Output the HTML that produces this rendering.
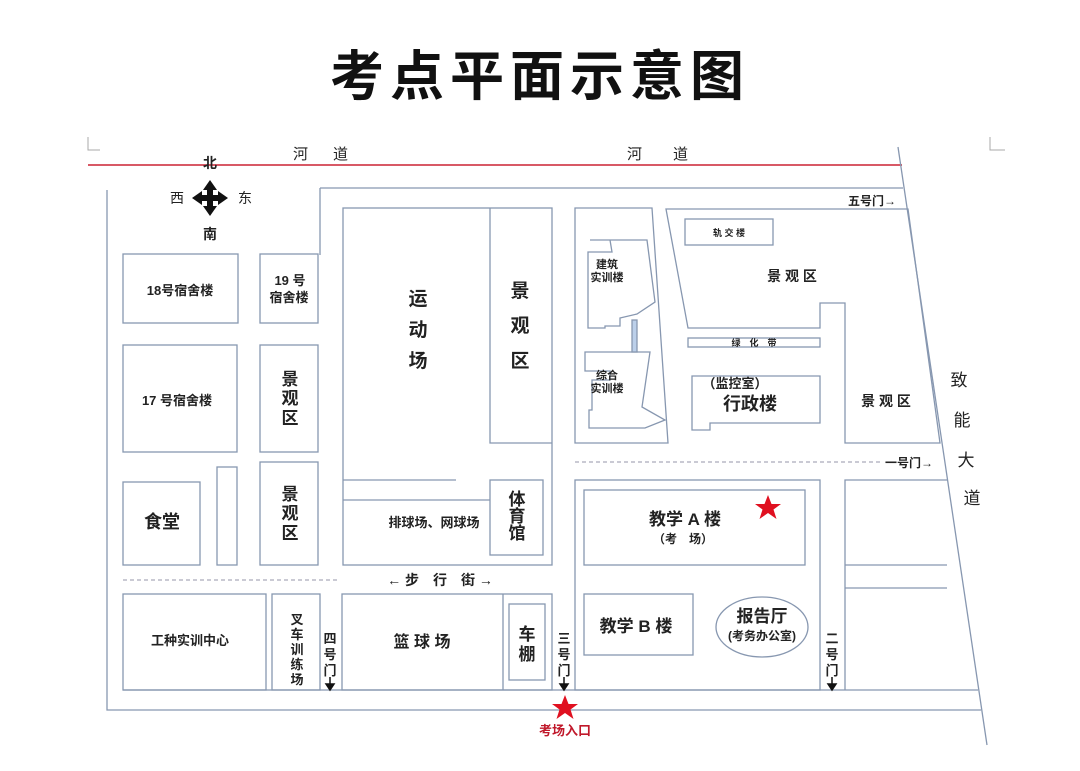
<!DOCTYPE html>
<html><head><meta charset="utf-8"><style>
html,body{margin:0;padding:0;background:#fff}
svg{display:block}
text{font-family:"Liberation Sans","Noto Sans CJK SC",sans-serif;fill:#222}
.b{font-weight:bold}
</style></head><body>
<svg width="1080" height="771" viewBox="0 0 1080 771" xmlns="http://www.w3.org/2000/svg">
<rect width="1080" height="771" fill="#fff"/>
<text x="540" y="95" text-anchor="middle" font-size="54" class="b" letter-spacing="6" style="fill:#111">考点平面示意图</text>
<g stroke="#aaa" fill="none" stroke-width="1">
<path d="M88 137V150H100M990 137V150H1005"/>
</g>
<line x1="88" y1="165" x2="902" y2="165" stroke="#c23" stroke-width="1.5"/>
<text x="293" y="159" font-size="15">河</text><text x="333" y="159" font-size="15">道</text>
<text x="627" y="159" font-size="15">河</text><text x="673" y="159" font-size="15">道</text>
<g stroke="#8797b0" stroke-width="1.3" fill="none">
<line x1="898" y1="147" x2="987" y2="745"/>
<path d="M107 190V710H981"/>
<path d="M320 188H903"/>
<path d="M320 188V255"/>
<line x1="123" y1="690" x2="978" y2="690"/>
<rect x="123" y="254" width="115" height="69"/>
<rect x="260" y="254" width="58" height="69"/>
<rect x="123" y="345" width="114" height="107"/>
<rect x="260" y="345" width="58" height="107"/>
<rect x="123" y="482" width="77" height="83"/>
<rect x="217" y="467" width="20" height="98"/>
<rect x="260" y="462" width="58" height="103"/>
<rect x="343" y="208" width="209" height="357"/>
<path d="M490 208V443H552"/>
<path d="M343 480H456M343 500H490"/>
<rect x="490" y="480" width="53" height="75"/>
<rect x="123" y="594" width="143" height="96"/>
<rect x="272" y="594" width="48" height="96"/>
<rect x="342" y="594" width="210" height="96"/>
<line x1="503" y1="594" x2="503" y2="690"/>
<rect x="509" y="604" width="36" height="76"/>
<path d="M575 208H652L668 443H575Z"/>
<path d="M590 240H647L655 302L637 314L620 318V326H605V328H588V252H612L610 240Z"/>
<path d="M585 352H650L642 407L665 420L645 428H589V410H592V380H610V371H585Z"/>
<rect x="632" y="320" width="5" height="32" fill="#bcd0ea"/>
<path d="M666 209H908L940 443H845V303H820V328H688Z"/>
<rect x="685" y="219" width="88" height="26"/>
<rect x="688" y="338" width="132" height="9"/>
<path d="M692 376H820V423H710V430H692Z"/>
<rect x="575" y="480" width="245" height="210"/>
<rect x="584" y="490" width="221" height="75"/>
<rect x="584" y="594" width="109" height="61"/>
<ellipse cx="762" cy="627" rx="46" ry="30"/>
<path d="M845 690V480H948M845 565H947M845 588H947"/>
</g>
<g stroke="#aab" stroke-width="1.2" stroke-dasharray="4 3">
<line x1="123" y1="580" x2="340" y2="580"/>
<line x1="575" y1="462" x2="882" y2="462"/>
</g>
<g fill="#111">
<rect x="207" y="185" width="6" height="26"/><rect x="197" y="195" width="26" height="6"/>
<path d="M210 180L203 190H217Z M210 216L203 206H217Z M192 198L202 191V205Z M228 198L218 191V205Z"/>
</g>
<text x="210" y="168" font-size="14" text-anchor="middle" class="b">北</text>
<text x="177" y="203" font-size="14" text-anchor="middle">西</text>
<text x="245" y="203" font-size="14" text-anchor="middle">东</text>
<text x="210" y="239" font-size="14" text-anchor="middle" class="b">南</text>
<g font-size="13" class="b">
<text x="180" y="295" text-anchor="middle">18号宿舍楼</text>
<text x="290" y="285" text-anchor="middle">19 号</text>
<text x="289" y="302" text-anchor="middle">宿舍楼</text>
<text x="177" y="405" text-anchor="middle">17 号宿舍楼</text>
<text x="434" y="527" text-anchor="middle">排球场、网球场</text>
<text x="190" y="645" text-anchor="middle">工种实训中心</text>
</g>
<g font-size="17" class="b" text-anchor="middle">
<text x="290" y="385">景</text><text x="290" y="404">观</text><text x="290" y="424">区</text>
<text x="290" y="500">景</text><text x="290" y="519">观</text><text x="290" y="539">区</text>
<text x="162" y="528" font-size="18">食堂</text>
<text x="517" y="505">体</text><text x="517" y="522">育</text><text x="517" y="539">馆</text>
<text x="527" y="640">车</text><text x="527" y="660">棚</text>
<text x="297" y="624" font-size="13">叉</text><text x="297" y="639" font-size="13">车</text><text x="297" y="654" font-size="13">训</text><text x="297" y="669" font-size="13">练</text><text x="297" y="684" font-size="13">场</text>
<text x="422" y="647" font-size="16">篮 球 场</text>
<text x="636" y="632" font-size="17">教学 B 楼</text>
<text x="685" y="525" font-size="17">教学 A 楼</text>
<text x="683" y="543" font-size="12">（考　场）</text>
<text x="762" y="622" font-size="17">报告厅</text>
<text x="762" y="640" font-size="12">(考务办公室)</text>
<text x="750" y="410" font-size="18">行政楼</text>
<text x="735" y="388" font-size="13">（监控室）</text>
<text x="792" y="281" font-size="14">景 观 区</text>
<text x="886" y="406" font-size="14">景 观 区</text>
<text x="729" y="236" font-size="9">轨 交 楼</text>
<text x="754" y="346" font-size="9">绿　化　带</text>
<text x="607" y="268" font-size="11">建筑</text><text x="607" y="281" font-size="11">实训楼</text>
<text x="607" y="379" font-size="11">综合</text><text x="607" y="392" font-size="11">实训楼</text>
</g>
<g font-size="19" class="b" text-anchor="middle">
<text x="418" y="305">运</text><text x="418" y="336">动</text><text x="418" y="367">场</text>
<text x="520" y="297">景</text><text x="520" y="332">观</text><text x="520" y="367">区</text>
</g>
<g font-size="17" text-anchor="middle">
<text x="959" y="386">致</text><text x="962" y="426">能</text><text x="966" y="466">大</text><text x="972" y="504">道</text>
</g>
<text x="440" y="585" font-size="14" text-anchor="middle" class="b">← 步　行　街 →</text>
<g font-size="12" class="b">
<text x="848" y="205">五号门→</text>
<text x="885" y="467">一号门→</text>
</g>
<g font-size="13" class="b" text-anchor="middle">
<text x="330" y="643">四</text><text x="330" y="659">号</text><text x="330" y="675">门</text>
<text x="564" y="643">三</text><text x="564" y="659">号</text><text x="564" y="675">门</text>
<text x="832" y="643">二</text><text x="832" y="659">号</text><text x="832" y="675">门</text>
</g>
<g stroke="#111" stroke-width="1.5" fill="#111">
<path d="M330 677V688M564 677V688M832 677V688"/>
<path d="M326 684L330 690L334 684ZM560 684L564 690L568 684ZM828 684L832 690L836 684Z"/>
</g>
<g fill="#e01020">
<polygon points="565,695 568.5,704 578,704 570.5,709.5 573.5,719 565,713 556.5,719 559.5,709.5 552,704 561.5,704"/>
<polygon points="768,495 771.5,504 781,504 773.5,509.5 776.5,519 768,513 759.5,519 762.5,509.5 755,504 764.5,504"/>
</g>
<text x="565" y="735" font-size="13" text-anchor="middle" class="b" style="fill:#c0182a">考场入口</text>
</svg>
</body></html>
